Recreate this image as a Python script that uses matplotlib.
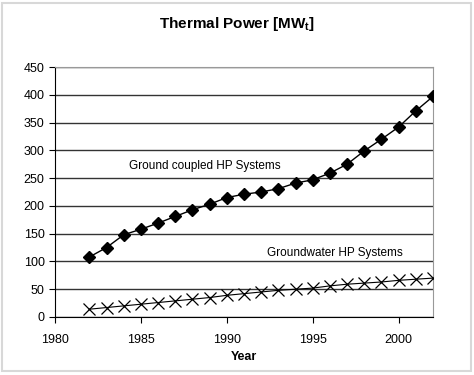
import matplotlib
matplotlib.use("Agg")
import matplotlib.pyplot as plt
from matplotlib.patches import Rectangle

years = list(range(1982, 2003))
ground_coupled = [108, 125, 148, 158, 169, 181, 193, 203, 215, 221, 225,
                  231, 241, 247, 259, 275, 299, 320, 342, 371, 397]
groundwater = [14, 17, 20, 23, 26, 29, 32, 35, 39, 42, 45,
               48, 50, 52, 56, 59, 61, 63, 66, 68, 70]

plt.rcParams["font.family"] = ["Liberation Sans", "DejaVu Sans"]

fig = plt.figure(figsize=(4.74, 3.75), dpi=100)
ax = fig.add_axes([0.116, 0.1547, 0.7975, 0.6666])

# light frame around the whole picture
fig.patches.append(Rectangle((0.004, 0.012), 0.99, 0.98, transform=fig.transFigure,
                             fill=False, edgecolor="#d8d8d8", linewidth=1.5))

ax.plot(years, ground_coupled, color="black", linewidth=1.0,
        marker="D", markersize=6.5, zorder=3)
ax.plot(years, groundwater, color="black", linewidth=0.8,
        marker="x", markersize=8.5, markeredgewidth=0.9, zorder=3)

ax.set_xlim(1980, 2002)
ax.set_ylim(0, 450)
ax.set_xticks([1980, 1985, 1990, 1995, 2000])
ax.set_yticks(range(0, 451, 50))
ax.yaxis.grid(True, color="#333333", linewidth=1.0)
ax.set_axisbelow(True)

for side in ["top", "right"]:
    ax.spines[side].set_color("#999999")
for side in ["left", "bottom"]:
    ax.spines[side].set_color("black")
ax.tick_params(direction="out", length=4, labelsize=9, color="black")
ax.tick_params(axis="x", pad=8)

ax.text(1988.7, 272, "Ground coupled HP Systems", fontsize=8.5,
        ha="center", va="center")
ax.text(1996.3, 115, "Groundwater HP Systems", fontsize=8.5,
        ha="center", va="center")

ax.set_xlabel("Year", fontsize=9, fontweight="bold", labelpad=4)
fig.text(0.5, 0.935, r"Thermal Power [MW$_\mathregular{t}$]", fontsize=11,
         fontweight="bold", ha="center", va="center")

fig.savefig("out.png", dpi=100)
